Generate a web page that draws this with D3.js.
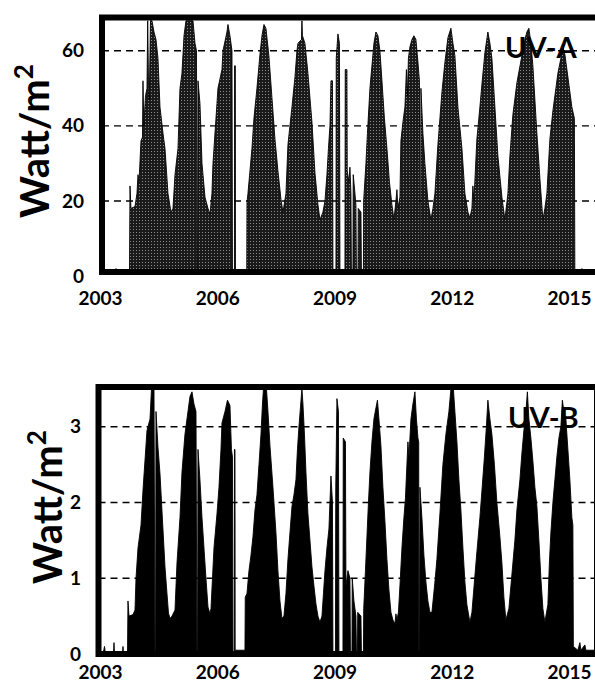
<!DOCTYPE html>
<html>
<head>
<meta charset="utf-8">
<script src="https://cdn.jsdelivr.net/npm/d3@7"></script>
<style>
  html, body { margin: 0; padding: 0; background: #fff; }
  svg { display: block; font-family: Lato, "Open Sans", sans-serif; }
</style>
</head>
<body>
<svg id="chart" width="595" height="685"></svg>
<script>
// Outline of the daily series (decimal year, Watt/m2)
const uvaYear = [
  2002.800, 2003.080, 2003.093, 2003.107, 2003.453, 2003.467, 2003.493, 2003.600, 2003.653, 2003.680,
  2003.707, 2003.760, 2003.800, 2003.813, 2003.835, 2003.880, 2003.920, 2003.939, 2003.960, 2003.981,
  2004.013, 2004.053, 2004.107, 2004.160, 2004.213, 2004.267, 2004.347, 2004.400, 2004.480, 2004.560,
  2004.613, 2004.667, 2004.747, 2004.800, 2004.853, 2004.907, 2004.960, 2005.147, 2005.200, 2005.240,
  2005.253, 2005.269, 2005.280, 2005.333, 2005.387, 2005.467, 2005.547, 2005.600, 2005.653, 2005.680,
  2005.787, 2005.813, 2005.920, 2005.947, 2006.053, 2006.080, 2006.133, 2006.187, 2006.200, 2006.253,
  2006.256, 2006.277, 2006.280, 2006.581, 2006.587, 2006.613, 2006.720, 2006.773, 2006.853, 2006.933,
  2006.987, 2007.040, 2007.093, 2007.173, 2007.253, 2007.333, 2007.413, 2007.493, 2007.547, 2007.627,
  2007.680, 2007.787, 2007.867, 2007.920, 2007.947, 2008.040, 2008.053, 2008.067, 2008.133, 2008.213,
  2008.320, 2008.400, 2008.480, 2008.533, 2008.613, 2008.667, 2008.720, 2008.760, 2008.800, 2008.827,
  2008.867, 2008.880, 2008.960, 2008.968, 2009.013, 2009.053, 2009.067, 2009.200, 2009.208, 2009.253,
  2009.261, 2009.307, 2009.333, 2009.360, 2009.373, 2009.413, 2009.421, 2009.467, 2009.493, 2009.507,
  2009.547, 2009.555, 2009.627, 2009.640, 2009.693, 2009.699, 2009.760, 2009.800, 2009.867, 2009.920,
  2009.973, 2010.027, 2010.080, 2010.133, 2010.187, 2010.253, 2010.320, 2010.387, 2010.453, 2010.507,
  2010.560, 2010.587, 2010.613, 2010.667, 2010.693, 2010.747, 2010.800, 2010.840, 2010.867, 2010.893,
  2010.933, 2010.987, 2011.040, 2011.093, 2011.147, 2011.187, 2011.200, 2011.219, 2011.227, 2011.280,
  2011.333, 2011.413, 2011.493, 2011.547, 2011.600, 2011.680, 2011.787, 2011.867, 2011.947, 2012.027,
  2012.080, 2012.133, 2012.213, 2012.320, 2012.400, 2012.480, 2012.533, 2012.587, 2012.613, 2012.640,
  2012.720, 2012.800, 2012.853, 2012.933, 2013.013, 2013.067, 2013.120, 2013.200, 2013.280, 2013.387,
  2013.467, 2013.547, 2013.600, 2013.680, 2013.787, 2013.920, 2014.000, 2014.053, 2014.107, 2014.160,
  2014.213, 2014.320, 2014.400, 2014.480, 2014.533, 2014.587, 2014.667, 2014.747, 2014.800, 2014.880,
  2014.960, 2015.013, 2015.067, 2015.147, 2015.253, 2015.320, 2015.333, 2015.507, 2015.520, 2015.533,
  2015.867
];
const uvaValue = [
  0, 0, 2, 0, 0, 24, 18, 18.5, 22, 27,
  25, 36, 37, 52, 40, 48, 50, 68, 52, 47,
  68, 68, 65, 63, 58, 45, 38, 34, 22, 17,
  18, 27, 34, 50, 54, 64, 68, 68, 62, 60,
  0, 0, 52, 46, 30, 21, 18, 16.5, 22, 30,
  46, 50, 55, 60, 65, 67, 64, 60, 0, 0,
  56, 56, 0, 0, 19.5, 22, 34, 42, 50, 59,
  64, 67, 66, 58.5, 47.5, 36.5, 28, 20.5, 17, 22,
  35, 45, 53, 60, 62, 63, 68, 64, 62, 54,
  41, 27.5, 19, 15, 17, 20, 27, 34, 40, 52,
  52, 0, 0, 58, 64.5, 62, 0, 0, 55, 55,
  28, 25, 29, 22, 0, 0, 27, 22, 19, 0,
  0, 18, 17, 0, 0, 20, 30, 38, 50, 56,
  62, 65, 64, 60, 52, 42, 34, 25, 19, 15,
  20, 23, 18, 21, 36, 41, 45, 55, 48, 58,
  61, 63, 64, 63, 57, 52, 0, 0, 50, 38,
  30, 20, 15, 18, 22, 35, 49, 57, 63.5, 66,
  62, 58.7, 45, 34, 22, 17, 15.5, 18, 24, 20,
  36.5, 45, 51, 59.5, 65, 62, 58, 45, 32, 21,
  15, 22, 32, 43, 51.5, 58.7, 63, 65, 66, 62,
  56, 38, 26, 15, 18, 22, 36.5, 44, 48, 54,
  58, 61, 59, 53, 45, 42, 0, 0, 2, 0,
  0
];

const uvbYear = [
  2002.747, 2002.787, 2002.813, 2003.027, 2003.040, 2003.053, 2003.267, 2003.280, 2003.293, 2003.400,
  2003.413, 2003.440, 2003.547, 2003.600, 2003.627, 2003.680, 2003.760, 2003.813, 2003.867, 2003.920,
  2004.000, 2004.040, 2004.107, 2004.133, 2004.149, 2004.160, 2004.213, 2004.267, 2004.347, 2004.400,
  2004.453, 2004.493, 2004.533, 2004.587, 2004.667, 2004.720, 2004.800, 2004.853, 2004.933, 2005.013,
  2005.067, 2005.120, 2005.173, 2005.227, 2005.253, 2005.269, 2005.280, 2005.333, 2005.387, 2005.440,
  2005.493, 2005.547, 2005.600, 2005.627, 2005.667, 2005.707, 2005.787, 2005.840, 2005.893, 2005.920,
  2006.000, 2006.067, 2006.133, 2006.173, 2006.200, 2006.213, 2006.248, 2006.253, 2006.267, 2006.272,
  2006.533, 2006.541, 2006.587, 2006.640, 2006.693, 2006.747, 2006.800, 2006.853, 2006.907, 2006.960,
  2007.000, 2007.027, 2007.107, 2007.147, 2007.200, 2007.280, 2007.360, 2007.413, 2007.467, 2007.520,
  2007.573, 2007.627, 2007.680, 2007.733, 2007.787, 2007.840, 2007.893, 2007.933, 2007.973, 2008.013,
  2008.053, 2008.080, 2008.120, 2008.160, 2008.213, 2008.267, 2008.320, 2008.373, 2008.427, 2008.480,
  2008.533, 2008.587, 2008.627, 2008.667, 2008.720, 2008.773, 2008.827, 2008.867, 2008.880, 2008.947,
  2008.955, 2008.987, 2009.027, 2009.040, 2009.147, 2009.155, 2009.213, 2009.227, 2009.280, 2009.333,
  2009.347, 2009.387, 2009.395, 2009.440, 2009.493, 2009.507, 2009.533, 2009.541, 2009.627, 2009.640,
  2009.693, 2009.701, 2009.747, 2009.787, 2009.827, 2009.867, 2009.920, 2009.973, 2010.027, 2010.067,
  2010.107, 2010.160, 2010.213, 2010.267, 2010.320, 2010.373, 2010.427, 2010.480, 2010.533, 2010.560,
  2010.587, 2010.627, 2010.667, 2010.720, 2010.773, 2010.813, 2010.853, 2010.880, 2010.907, 2010.960,
  2011.013, 2011.067, 2011.107, 2011.147, 2011.168, 2011.173, 2011.189, 2011.200, 2011.253, 2011.307,
  2011.360, 2011.413, 2011.467, 2011.520, 2011.600, 2011.653, 2011.733, 2011.813, 2011.893, 2011.973,
  2012.027, 2012.093, 2012.133, 2012.187, 2012.240, 2012.293, 2012.347, 2012.400, 2012.453, 2012.533,
  2012.587, 2012.653, 2012.720, 2012.800, 2012.853, 2012.920, 2012.973, 2013.013, 2013.067, 2013.120,
  2013.187, 2013.253, 2013.333, 2013.387, 2013.440, 2013.493, 2013.573, 2013.627, 2013.680, 2013.733,
  2013.787, 2013.867, 2013.920, 2013.973, 2014.027, 2014.067, 2014.107, 2014.160, 2014.213, 2014.267,
  2014.320, 2014.373, 2014.427, 2014.480, 2014.533, 2014.560, 2014.613, 2014.653, 2014.693, 2014.747,
  2014.800, 2014.853, 2014.907, 2014.960, 2015.000, 2015.040, 2015.093, 2015.147, 2015.200, 2015.253,
  2015.280, 2015.293, 2015.413, 2015.467, 2015.493, 2015.600, 2015.627, 2015.867
];
const uvbValue = [
  0, 0.1, 0, 0, 0.15, 0, 0, 0.1, 0, 0,
  0.7, 0.5, 0.52, 0.58, 1.0, 1.4, 1.7, 2.16, 2.56, 2.95,
  3.1, 3.5, 3.5, 0, 0, 3.2, 2.73, 2.38, 1.64, 1.15,
  0.8, 0.54, 0.47, 0.5, 0.58, 1.2, 1.8, 2.4, 2.9, 3.2,
  3.4, 3.46, 3.3, 3.2, 0, 0, 2.7, 2.3, 1.8, 1.4,
  1.0, 0.62, 0.53, 0.6, 1.0, 1.4, 1.85, 2.2, 2.7, 3.05,
  3.2, 3.35, 3.28, 2.7, 2.6, 0, 0, 2.7, 2.7, 0.05,
  0.05, 0.75, 0.8, 1.1, 1.3, 1.55, 1.9, 2.1, 2.5, 2.9,
  3.3, 3.5, 3.5, 3.2, 2.75, 2.2, 1.6, 1.1, 0.7, 0.47,
  0.5, 0.8, 1.25, 1.6, 1.95, 2.1, 2.3, 2.7, 3.0, 3.25,
  3.5, 3.3, 2.9, 2.4, 1.85, 1.5, 1.15, 0.9, 0.66, 0.5,
  0.42, 0.5, 0.8, 1.1, 1.4, 1.65, 2.35, 2.0, 0, 0,
  2.2, 3.37, 3.2, 0, 0, 2.85, 2.8, 0.9, 1.1, 1.0,
  0, 0, 1.0, 0.7, 0.5, 0, 0, 0.55, 0.5, 0,
  0, 0.6, 1.1, 1.55, 2.0, 2.4, 2.8, 3.1, 3.25, 3.35,
  3.1, 2.75, 2.2, 1.75, 1.25, 0.85, 0.55, 0.45, 0.4, 0.53,
  0.45, 0.55, 0.9, 1.4, 1.8, 2.05, 2.5, 2.8, 2.6, 3.1,
  3.3, 3.46, 3.1, 2.85, 2.8, 0, 0, 2.2, 1.8, 1.3,
  0.95, 0.7, 0.55, 0.55, 0.95, 1.25, 1.85, 2.5, 2.9, 3.2,
  3.5, 3.5, 3.2, 2.8, 2.3, 1.9, 1.4, 0.95, 0.65, 0.42,
  0.55, 0.95, 1.35, 1.8, 2.15, 2.6, 3.0, 3.35, 3.1, 2.9,
  2.5, 2.0, 1.55, 1.2, 0.75, 0.45, 0.6, 0.9, 1.2, 1.5,
  1.9, 2.3, 2.65, 2.95, 3.2, 3.46, 3.1, 2.85, 2.55, 2.2,
  1.95, 1.5, 1.0, 0.6, 0.42, 0.5, 0.65, 1.2, 1.6, 2.0,
  2.3, 2.6, 2.85, 3.0, 3.35, 3.2, 3.1, 2.7, 2.3, 1.8,
  1.7, 0.1, 0.05, 0.15, 0.05, 0.12, 0.05, 0.05
];

const yearLabels = ['2003', '2006', '2009', '2012', '2015'];
const uvaTicks = [0, 20, 40, 60];
const uvbTicks = [0, 1, 2, 3];

const svg = d3.select('#chart');

// halftone-ish fill used for the UV-A panel
const pat = svg.append('defs').append('pattern')
  .attr('id', 'stipple')
  .attr('patternUnits', 'userSpaceOnUse')
  .attr('width', 3)
  .attr('height', 3);
pat.append('rect').attr('width', 3).attr('height', 3).attr('fill', '#1a1a1a');
pat.append('rect').attr('x', 1).attr('y', 1).attr('width', 1).attr('height', 1).attr('fill', '#8c8c8c');

// shared time scale (data) and label scale (tick text as printed)
const x = d3.scaleLinear().domain([2002.72, 2015.87]).range([102, 595]);
const xLab = d3.scalePoint().domain(yearLabels).range([100, 569]);

function drawPanel(p) {
  const y = d3.scaleLinear().domain(p.domain).range(p.range);
  const g = svg.append('g');

  // clip to the frame
  g.append('clipPath').attr('id', 'clip-' + p.id)
    .append('rect')
    .attr('x', p.left).attr('y', p.top)
    .attr('width', p.right - p.left).attr('height', p.bottom - p.top);

  // dashed gridlines (behind the data)
  g.selectAll('.grid')
    .data(p.ticks.filter(d => d > 0))
    .join('line')
    .attr('x1', p.left).attr('x2', p.right)
    .attr('y1', d => y(d)).attr('y2', d => y(d))
    .attr('stroke', '#000')
    .attr('stroke-width', 1.4)
    .attr('stroke-dasharray', '7,5');

  const pts = p.years.map((t, i) => [t, p.values[i]]);
  const area = d3.area()
    .x(d => x(d[0]))
    .y0(y(0))
    .y1(d => y(d[1]));

  g.append('path')
    .datum(pts)
    .attr('clip-path', `url(#clip-${p.id})`)
    .attr('d', area)
    .attr('fill', p.fill)
    .attr('stroke', '#000')
    .attr('stroke-width', 0.9);

  // thick frame
  g.append('rect')
    .attr('x', p.left).attr('y', p.top)
    .attr('width', p.right - p.left).attr('height', p.bottom - p.top)
    .attr('fill', 'none')
    .attr('stroke', '#000')
    .attr('stroke-width', 6);

  // y axis labels
  const ya = g.append('g')
    .attr('transform', `translate(${p.left},0)`)
    .call(d3.axisLeft(y).tickValues(p.ticks).tickSize(0).tickPadding(p.yPad).tickFormat(d3.format('d')));
  ya.select('.domain').remove();
  ya.selectAll('text')
    .attr('font-family', 'Lato, sans-serif')
    .attr('font-size', 19)
    .attr('font-weight', 'bold')
    .attr('fill', '#000');

  // x axis labels
  const xa = g.append('g')
    .attr('transform', `translate(0,${p.bottom})`)
    .call(d3.axisBottom(xLab).tickSize(0).tickPadding(p.xPad));
  xa.select('.domain').remove();
  xa.selectAll('text')
    .attr('font-family', 'Lato, sans-serif')
    .attr('font-size', 19)
    .attr('font-weight', 'bold')
    .attr('fill', '#000');

  // y title
  const title = g.append('text')
    .attr('transform', `translate(${p.titleX},${p.titleY}) rotate(-90)`)
    .attr('text-anchor', 'middle')
    .attr('font-size', 40)
    .attr('font-weight', 'bold')
    .attr('fill', '#000');
  title.append('tspan').text('Watt/m');
  title.append('tspan').attr('font-size', 26).attr('dy', -16).text('2');

  // series name
  g.append('text')
    .attr('x', p.labelX).attr('y', p.labelY)
    .attr('font-size', 29)
    .attr('font-weight', 'bold')
    .attr('fill', '#000')
    .text(p.label);
}

drawPanel({
  id: 'uva', years: uvaYear, values: uvaValue, ticks: uvaTicks,
  domain: [0, 69], range: [276, 17],
  left: 102, right: 600, top: 17.5, bottom: 272,
  fill: 'url(#stipple)', yPad: 18, xPad: 20,
  titleX: 49, titleY: 141, label: 'UV-A', labelX: 505, labelY: 58
});

drawPanel({
  id: 'uvb', years: uvbYear, values: uvbValue, ticks: uvbTicks,
  domain: [0, 3.5], range: [654, 388.8],
  left: 98.5, right: 597, top: 387, bottom: 654,
  fill: '#000', yPad: 17.5, xPad: 12,
  titleX: 62, titleY: 507, label: 'UV-B', labelX: 508, labelY: 428
});
</script>
</body>
</html>
